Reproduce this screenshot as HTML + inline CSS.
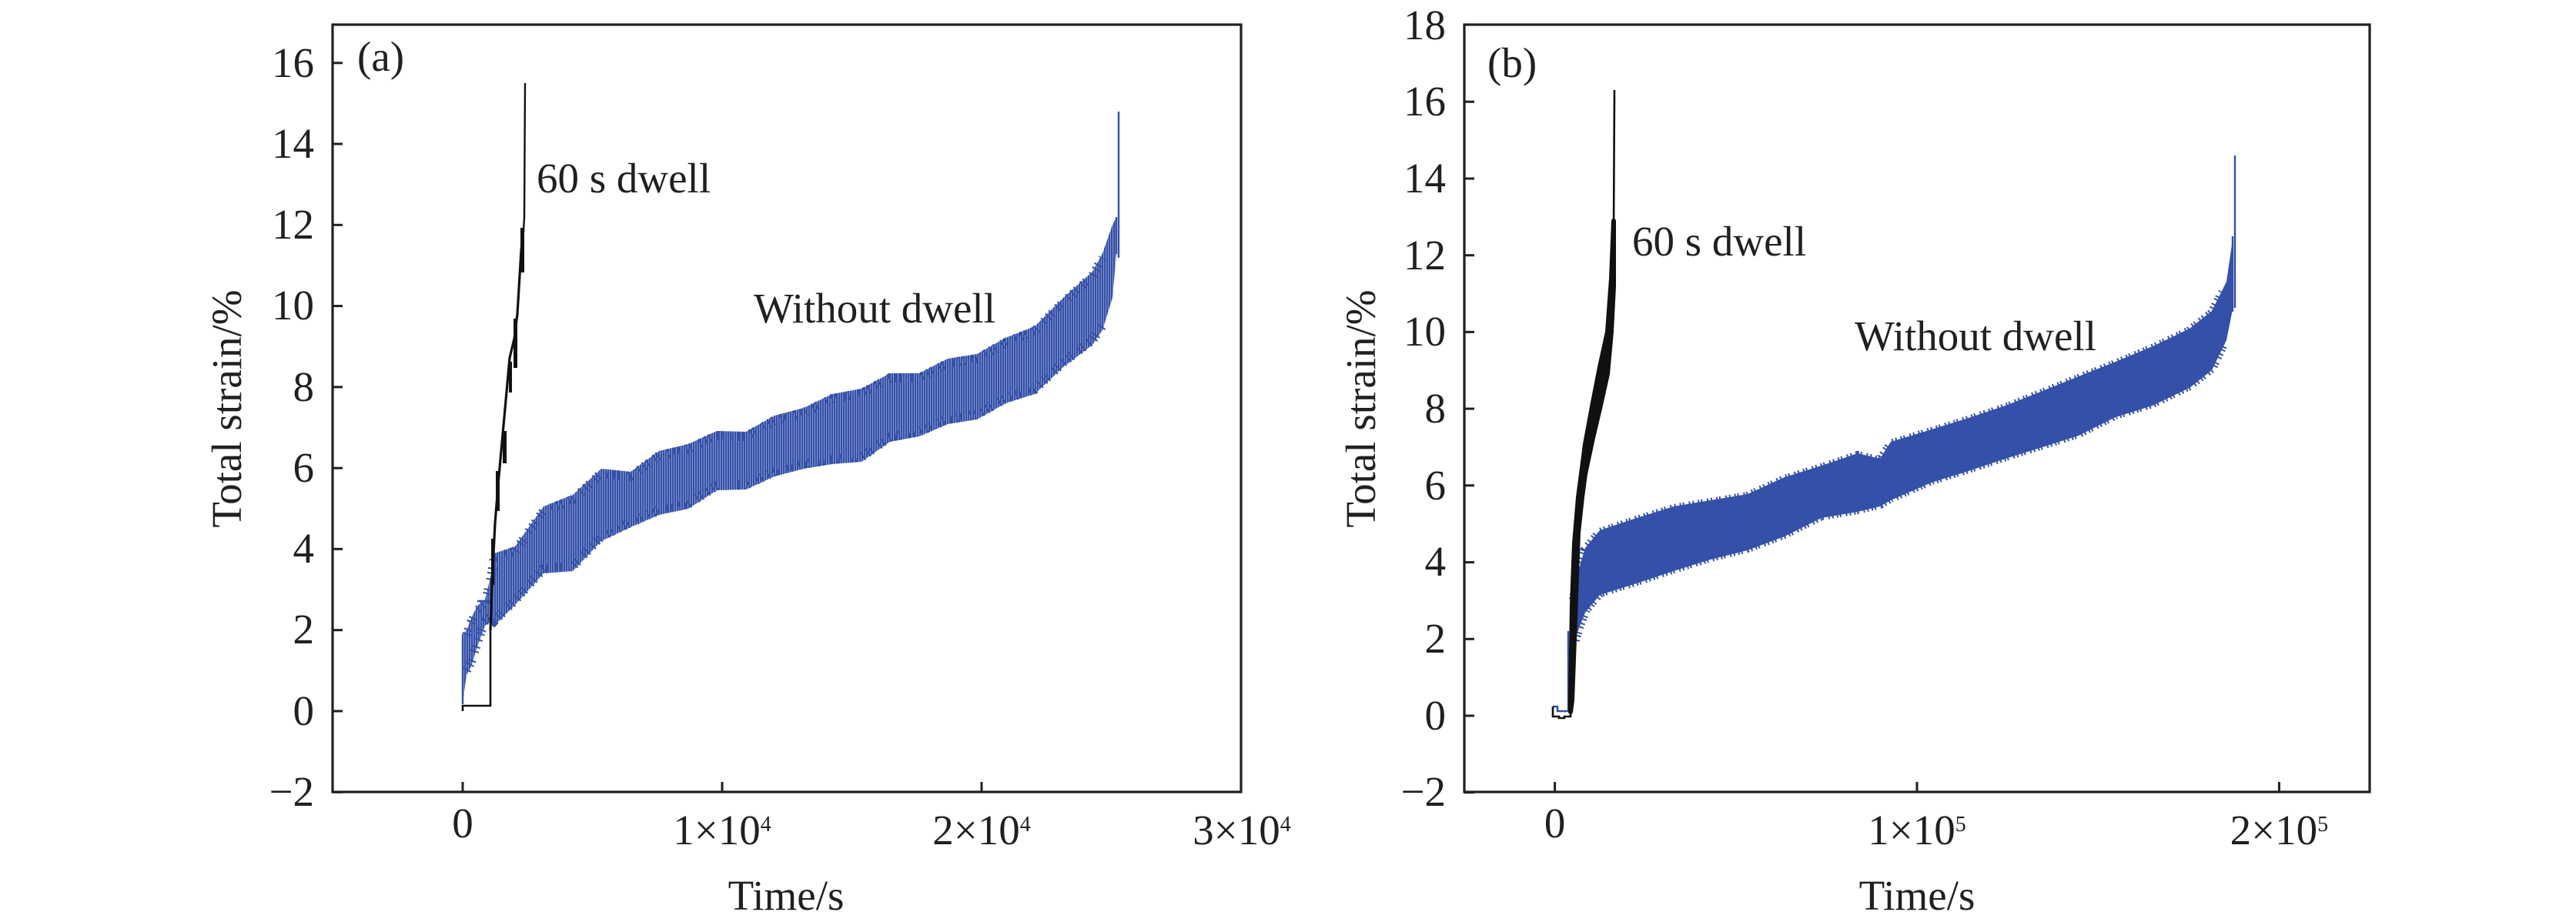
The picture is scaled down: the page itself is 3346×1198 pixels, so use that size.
<!DOCTYPE html>
<html><head><meta charset="utf-8"><style>
html,body{margin:0;padding:0;background:#fff;}
svg{display:block;}
text{font-family:"Liberation Serif","Times New Roman",serif;fill:#231f20;font-size:55px;}
</style></head><body>
<svg width="3346" height="1198" viewBox="0 0 3346 1198" xmlns="http://www.w3.org/2000/svg">
<defs>
<pattern id="str" x="0" y="0" width="3" height="4" patternUnits="userSpaceOnUse">
<rect x="0" y="0" width="2.6" height="4" fill="#3450a8"/>
</pattern>
</defs>
<rect x="0" y="0" width="3346" height="1198" fill="#fff"/>

<!-- ============ PANEL (a) ============ -->
<polygon fill="url(#str)" points="601,824 606,819 612,803 620,787 630,779 637,750 642,719 669,710 706,658 744,643 781,609 819,613 856,586 894,577 931,560 969,561 1006,540 1044,530 1081,512 1119,505 1156,485 1194,485 1231,466 1269,460 1306,439 1344,424 1381,387 1419,353 1432,329 1445,292 1450,282 1450,329 1445,387 1432,429 1419,448 1381,477 1344,512 1306,524 1269,545 1231,551 1194,567 1156,574 1119,600 1081,603 1044,609 1006,619 969,636 931,637 894,661 856,669 819,685 781,703 744,742 706,745 669,786 642,813 637,808 630,813 620,840 612,866 606,877 601,913"/>
<!-- jagged edges (a) -->
<polyline fill="none" stroke="#3450a8" stroke-width="12" stroke-dasharray="2 4 2 9 2 3 2 12 2 6" points="606,825 612,809 620,793 630,785 637,756 642,725 669,716 706,664 744,649 781,615 819,619 856,592 894,583 931,566 969,567 1006,546 1044,536 1081,518 1119,511 1156,491 1194,491 1231,472 1269,466 1306,445 1344,430 1381,393 1419,359 1432,335"/>
<polyline fill="none" stroke="#3450a8" stroke-width="12" stroke-dasharray="2 6 2 3 2 11 2 4 2 8" points="606,871 612,860 620,834 630,807 637,802 642,807 669,780 706,739 744,736 781,697 819,679 856,663 894,655 931,631 969,630 1006,613 1044,603 1081,597 1119,594 1156,568 1194,561 1231,545 1269,539 1306,518 1344,506 1381,471 1419,442 1432,423"/>
<path d="M601 915V824M1453 335V145M1450 330V282M620 781H637" stroke="#3450a8" stroke-width="2.4" fill="none"/>
<!-- black (a) -->
<path d="M601 924V917H637V819" stroke="#111" stroke-width="2.6" fill="none"/>
<polyline points="637,819 639,760 643,680 647,630 652,575 657,520 662,465 668,440 672,408 677,325 680,298" stroke="#111" stroke-width="3.2" fill="none"/>
<g fill="#111">
<rect x="638" y="700" width="4" height="60"/>
<rect x="644" y="612" width="5" height="52"/>
<rect x="653" y="560" width="5" height="42"/>
<rect x="661" y="470" width="4" height="40"/>
<rect x="667" y="414" width="5" height="64"/>
<rect x="676" y="296" width="5" height="58"/>
</g>
<path d="M680 300L681 282L682 108" stroke="#111" stroke-width="2.4" fill="none"/>

<!-- axes (a) -->
<rect x="432" y="32" width="1180" height="997" fill="none" stroke="#231f20" stroke-width="3.2"/>
<g stroke="#231f20" stroke-width="3">
<line x1="432" y1="1029.3" x2="445" y2="1029.3"/>
<line x1="432" y1="924" x2="445" y2="924"/>
<line x1="432" y1="818.7" x2="445" y2="818.7"/>
<line x1="432" y1="713.4" x2="445" y2="713.4"/>
<line x1="432" y1="608.2" x2="445" y2="608.2"/>
<line x1="432" y1="502.9" x2="445" y2="502.9"/>
<line x1="432" y1="397.6" x2="445" y2="397.6"/>
<line x1="432" y1="292.3" x2="445" y2="292.3"/>
<line x1="432" y1="187" x2="445" y2="187"/>
<line x1="432" y1="81.8" x2="445" y2="81.8"/>
<line x1="601" y1="1029" x2="601" y2="1016"/>
<line x1="938" y1="1029" x2="938" y2="1016"/>
<line x1="1275" y1="1029" x2="1275" y2="1016"/>
</g>
<g text-anchor="end">
<text x="408" y="1047">−2</text>
<text x="408" y="942">0</text>
<text x="408" y="836">2</text>
<text x="408" y="731">4</text>
<text x="408" y="626">6</text>
<text x="408" y="521">8</text>
<text x="408" y="415">10</text>
<text x="408" y="310">12</text>
<text x="408" y="205">14</text>
<text x="408" y="100">16</text>
</g>
<g text-anchor="middle">
<text x="601" y="1088">0</text>
<text x="938" y="1097">1×10<tspan font-size="28" dy="-17">4</tspan></text>
<text x="1275" y="1097">2×10<tspan font-size="28" dy="-17">4</tspan></text>
<text x="1613" y="1097">3×10<tspan font-size="28" dy="-17">4</tspan></text>
<text x="1021" y="1182">Time/s</text>
<text transform="translate(313,531) rotate(-90)">Total strain/%</text>
</g>
<text x="464" y="92">(a)</text>
<text x="697" y="250">60 s dwell</text>
<text x="979" y="419">Without dwell</text>

<!-- ============ PANEL (b) ============ -->
<polygon fill="#3450a8" points="2040,804 2050,742 2059,712 2078,689 2126,673 2174,658 2222,650 2270,642 2318,620 2366,605 2413,589 2442,596 2456,574 2509,558 2557,543 2605,527 2653,508 2700,489 2748,470 2796,450 2844,427 2873,404 2892,366 2900,311 2900,402 2892,442 2873,481 2844,504 2796,527 2748,542 2700,566 2653,581 2605,596 2557,612 2509,627 2456,650 2442,658 2413,665 2366,673 2318,697 2270,715 2222,727 2174,742 2126,758 2078,773 2059,796 2050,819 2040,851"/>
<polyline fill="none" stroke="#3450a8" stroke-width="14" stroke-dasharray="2 3 2 5 2 2 2 6" points="2045,779 2050,746 2059,716 2078,693 2126,677 2174,662 2222,654 2270,646 2318,624 2366,609 2413,593 2442,600 2456,578 2509,562 2557,547 2605,531 2653,512 2700,493 2748,474 2796,454 2844,431 2873,408 2888,380"/>
<polyline fill="none" stroke="#3450a8" stroke-width="14" stroke-dasharray="2 4 2 2 2 6 2 3" points="2045,832 2050,815 2059,792 2078,769 2126,754 2174,738 2222,723 2270,711 2318,693 2366,669 2413,661 2442,654 2456,646 2509,623 2557,608 2605,592 2653,577 2700,562 2748,538 2796,523 2844,500 2873,477 2888,445"/>
<path d="M2017 918H2023V924H2037V820M2037 820V915M2903 400V202M2900 405V307" stroke="#3450a8" stroke-width="2.4" fill="none"/>
<!-- black (b) -->
<path d="M2017 918V931H2025V933H2032V931H2040V905" stroke="#111" stroke-width="2.6" fill="none"/>
<polygon fill="#111" stroke="#111" stroke-width="6" stroke-linejoin="round" points="2040,905 2042,785 2045,706 2050,646 2055,608 2059,577 2069,523 2078,477 2088,431 2093,362 2096,287 2096,372 2093,431 2088,486 2078,531 2069,569 2059,616 2055,646 2050,692 2045,830 2042,910 2040,925"/>
<path d="M2096 300L2097 117" stroke="#111" stroke-width="2.6" fill="none"/>

<!-- axes (b) -->
<rect x="1902" y="32" width="1176" height="997" fill="none" stroke="#231f20" stroke-width="3.2"/>
<g stroke="#231f20" stroke-width="3">
<line x1="1902" y1="1029.7" x2="1915" y2="1029.7"/>
<line x1="1902" y1="930" x2="1915" y2="930"/>
<line x1="1902" y1="830.3" x2="1915" y2="830.3"/>
<line x1="1902" y1="730.6" x2="1915" y2="730.6"/>
<line x1="1902" y1="630.8" x2="1915" y2="630.8"/>
<line x1="1902" y1="531.1" x2="1915" y2="531.1"/>
<line x1="1902" y1="431.4" x2="1915" y2="431.4"/>
<line x1="1902" y1="331.7" x2="1915" y2="331.7"/>
<line x1="1902" y1="232" x2="1915" y2="232"/>
<line x1="1902" y1="132.2" x2="1915" y2="132.2"/>
<line x1="2019.6" y1="1029" x2="2019.6" y2="1016"/>
<line x1="2490" y1="1029" x2="2490" y2="1016"/>
<line x1="2960.4" y1="1029" x2="2960.4" y2="1016"/>
</g>
<g text-anchor="end">
<text x="1878" y="1047">−2</text>
<text x="1878" y="948">0</text>
<text x="1878" y="848">2</text>
<text x="1878" y="748">4</text>
<text x="1878" y="649">6</text>
<text x="1878" y="549">8</text>
<text x="1878" y="449">10</text>
<text x="1878" y="350">12</text>
<text x="1878" y="250">14</text>
<text x="1878" y="150">16</text>
<text x="1878" y="51">18</text>
</g>
<g text-anchor="middle">
<text x="2019.6" y="1088">0</text>
<text x="2490" y="1097">1×10<tspan font-size="28" dy="-17">5</tspan></text>
<text x="2960.4" y="1097">2×10<tspan font-size="28" dy="-17">5</tspan></text>
<text x="2490" y="1182">Time/s</text>
<text transform="translate(1786,531) rotate(-90)">Total strain/%</text>
</g>
<text x="1932" y="100">(b)</text>
<text x="2120" y="332">60 s dwell</text>
<text x="2409" y="455">Without dwell</text>
</svg>
</body></html>
